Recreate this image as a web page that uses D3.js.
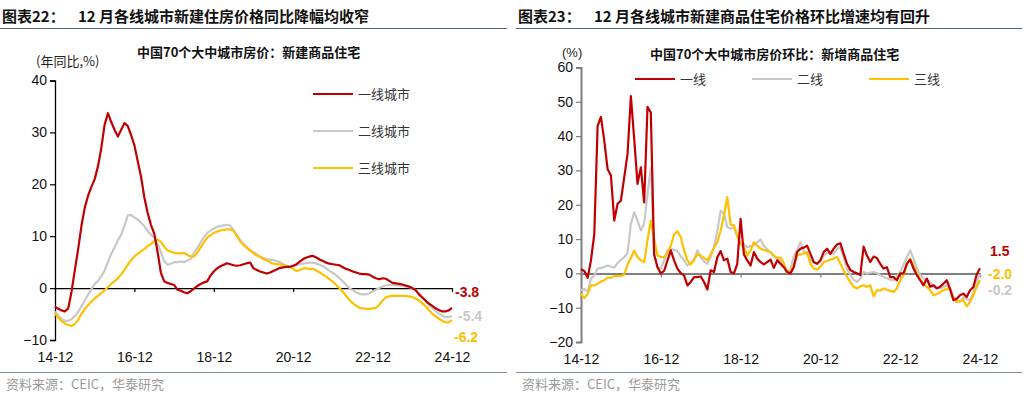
<!DOCTYPE html>
<html><head><meta charset="utf-8">
<script src="https://cdn.jsdelivr.net/npm/d3@7"></script>
<style>body{margin:0;background:#fff}svg{display:block}</style>
</head><body><svg id="c" width="1027" height="393"></svg>
<script>
// ---------- data ----------
const xTickIdx = [0, 24, 48, 72, 96, 120];
const xTickLabels = ["14-12", "16-12", "18-12", "20-12", "22-12", "24-12"];
const leftYTicks = [-10, 0, 10, 20, 30, 40];
const rightYTicks = [-20, -10, 0, 10, 20, 30, 40, 50, 60];
const leftSeriesNames = ["一线城市", "二线城市", "三线城市"];
const rightSeriesNames = ["一线", "二线", "三线"];

// Chart 22: YoY (%), monthly 2014-12 .. 2024-12
const yoyTier1 = [
 -3.6,-4.0,-4.3,-4.5,-3.9,-0.7,3.5,7.5,12.0,15.5,
 17.8,19.5,21.0,23.5,27.0,31.5,33.7,32.0,30.5,29.2,
 30.5,31.8,31.2,29.5,27.5,24.5,21.5,17.5,14.5,12.2,
 10.5,7.0,3.0,1.3,1.0,0.8,0.6,-0.3,-0.5,-0.8,
 -1.0,-0.6,-0.1,0.4,0.8,1.1,1.3,2.4,3.2,3.8,
 4.2,4.5,4.8,4.6,4.4,4.3,4.4,4.6,4.8,4.9,
 3.8,3.5,3.2,3.0,2.8,3.0,3.3,3.6,3.9,4.0,
 4.1,4.1,4.3,4.6,5.1,5.6,5.9,6.1,6.2,5.9,
 5.5,5.2,4.9,4.7,4.6,4.5,4.4,4.0,3.7,3.5,
 3.2,3.0,2.8,2.7,2.7,2.6,2.2,1.9,1.7,1.9,
 1.8,1.4,1.0,0.9,0.8,0.7,0.5,0.3,0.0,-0.4,
 -1.2,-1.8,-2.4,-3.0,-3.4,-3.9,-4.2,-4.5,-4.5,-4.3,
 -3.8];
const yoyTier2 = [
 -4.5,-5.3,-6.0,-6.3,-6.3,-6.0,-5.4,-4.6,-3.5,-2.4,
 -1.3,-0.2,0.8,1.4,2.3,3.4,5.0,6.6,7.8,9.2,
 10.3,12.0,14.0,14.1,13.6,13.2,12.6,11.9,11.0,10.3,
 9.7,8.5,7.0,5.2,4.5,4.7,5.0,5.0,5.1,5.0,
 5.3,5.6,6.8,7.7,8.8,9.8,10.6,11.1,11.5,11.8,
 12.0,12.1,12.2,12.0,11.2,10.2,9.2,8.5,7.9,7.3,
 6.9,6.5,6.1,5.8,5.6,5.5,5.4,5.2,5.0,4.6,
 4.3,4.1,4.2,4.4,4.6,4.7,4.8,4.9,4.9,4.7,
 4.5,4.2,3.8,3.3,2.9,2.5,1.9,1.3,0.6,0.0,
 -0.4,-0.8,-1.1,-1.2,-1.2,-1.0,-0.7,-0.3,0.0,0.3,
 0.5,0.6,0.6,0.5,0.5,0.4,0.3,0.2,0.0,-0.4,
 -1.0,-1.7,-2.5,-3.2,-3.8,-4.4,-4.9,-5.3,-5.6,-5.6,
 -5.4];
const yoyTier3 = [
 -4.9,-5.7,-6.4,-6.8,-7.1,-7.3,-6.9,-6.1,-5.0,-4.0,
 -3.3,-2.6,-2.0,-1.5,-1.0,-0.4,0.2,0.8,1.3,1.9,
 2.6,3.5,4.5,5.4,6.1,6.6,7.1,7.5,8.1,8.5,
 9.0,9.4,8.9,8.0,7.3,7.0,6.8,6.7,6.7,6.8,
 6.4,6.1,6.1,6.8,7.8,8.8,9.7,10.2,10.6,10.9,
 11.1,11.2,11.3,11.3,11.0,10.0,9.0,8.3,7.7,7.2,
 6.7,6.3,6.0,5.6,5.3,5.0,4.7,4.6,4.6,4.4,
 4.2,4.1,3.7,3.3,3.5,3.8,3.8,3.7,3.7,3.4,
 3.0,2.6,2.2,1.7,1.2,0.6,0.0,-0.7,-1.5,-2.3,
 -2.9,-3.4,-3.8,-3.9,-4.0,-4.0,-3.9,-3.8,-3.2,-2.4,
 -1.8,-1.6,-1.5,-1.5,-1.5,-1.5,-1.5,-1.6,-1.7,-2.0,
 -2.4,-2.9,-3.5,-4.2,-4.9,-5.4,-5.9,-6.3,-6.6,-6.6,
 -6.2];
const yoyEndLabels = ["-3.8", "-5.4", "-6.2"];

// Chart 23: MoM annualised (%), monthly 2014-12 .. 2024-12
const momTier1 = [
 1.2,0.7,-1.3,3.8,11.5,43.0,45.6,38.7,30.4,28.5,
 15.4,20.3,21.2,28.0,34.8,51.7,39.2,26.1,30.9,20.7,
 48.5,46.9,5.5,1.8,0.0,0.7,3.8,6.7,3.8,1.4,
 0.1,-0.6,-3.5,-2.5,-1.1,-1.1,-0.9,-2.5,-4.7,0.9,
 0.4,4.7,6.5,3.8,4.3,0.4,0.0,2.8,15.9,5.5,
 3.8,2.3,6.2,4.3,3.3,2.6,3.3,4.0,1.6,3.8,
 2.8,1.8,0.4,0.0,1.8,6.2,7.2,7.5,8.1,5.7,
 3.3,2.8,3.8,6.2,7.2,5.7,7.2,8.4,8.8,5.7,
 2.8,1.0,0.4,0.0,-0.5,7.8,5.2,3.3,4.9,4.5,
 2.8,1.4,1.8,-1.1,-1.1,-2.0,0.0,0.0,2.8,4.0,
 1.4,-0.5,-2.0,-3.5,-1.5,-3.9,-3.5,-4.4,-3.9,-3.0,
 -2.0,-4.5,-7.8,-7.4,-6.4,-5.9,-6.9,-4.9,-4.0,-0.3,
 1.5];
const momTier2 = [
 -4.9,-4.5,-5.4,-1.5,-0.6,1.4,1.6,1.9,2.3,2.0,
 1.7,3.0,4.0,4.7,5.9,14.4,17.8,15.4,12.5,14.4,
 23.2,30.9,5.5,1.8,1.4,3.8,6.7,7.0,6.9,6.5,
 5.0,3.8,2.3,3.0,3.8,6.7,4.7,3.5,2.8,4.7,
 7.6,12.5,18.3,17.2,13.5,13.0,13.5,10.6,8.6,8.6,
 7.6,8.0,8.1,9.1,9.8,8.1,7.0,6.0,5.0,4.3,
 3.3,2.2,0.3,1.2,5.0,6.8,9.1,6.5,5.5,4.3,
 3.1,2.8,3.5,5.2,6.0,6.0,5.7,7.2,7.6,4.7,
 1.4,-0.5,-1.8,-2.5,-1.5,0.4,0.0,0.2,0.4,0.1,
 -0.5,-1.1,-1.4,-1.8,-2.0,-1.1,0.5,2.5,4.7,6.7,
 4.3,1.5,-0.5,-1.5,-2.0,-2.6,-3.5,-4.0,-4.4,-3.9,
 -3.5,-4.5,-6.9,-7.8,-8.3,-6.9,-7.5,-7.8,-5.5,-2.5,
 -0.2];
const momTier3 = [
 -5.9,-7.2,-6.0,-3.5,-3.5,-3.0,-2.4,-2.0,-1.2,-1.3,
 -0.8,-0.7,-0.8,-0.3,2.5,4.5,6.7,4.7,3.8,3.3,
 9.6,15.4,10.0,5.2,4.8,4.7,6.0,8.1,11.3,12.3,
 10.6,6.7,3.8,2.6,4.0,5.5,5.2,4.5,3.8,5.5,
 7.5,9.1,12.5,16.9,22.2,14.2,14.0,11.0,8.6,7.6,
 5.2,6.7,9.1,8.1,7.2,6.8,6.5,6.2,5.2,4.5,
 4.6,3.0,0.3,0.5,2.5,5.2,5.5,5.8,6.2,2.8,
 1.4,1.1,2.0,3.3,3.6,4.0,4.3,4.9,2.8,0.9,
 -1.0,-2.5,-3.9,-4.4,-3.8,-3.5,-3.9,-3.5,-6.7,-4.9,
 -5.0,-4.4,-4.8,-5.1,-5.4,-4.4,-2.0,-0.6,2.8,4.3,
 2.3,0.0,-1.8,-3.0,-3.9,-4.9,-6.4,-6.0,-5.5,-4.9,
 -4.6,-4.4,-7.4,-8.3,-8.0,-7.8,-9.6,-8.3,-6.4,-3.9,
 -2.0];
const momEndLabels = ["1.5", "-2.0", "-0.2"];

// ---------- drawing ----------
const RED = "#C00000", GRAY = "#C8C8C8", GOLD = "#FFC000";
const CJK = "'Noto Sans CJK SC', sans-serif";
const NUM = "'Liberation Sans', Arial, sans-serif";
const svg = d3.select("#c");

function header(x0, x1, tag, title) {
  svg.append("text").attr("x", x0 + 2).attr("y", 22).attr("font-family", CJK)
    .attr("font-weight", 700).attr("font-size", 15).attr("fill", "#111").text(tag);
  svg.append("text").attr("x", x0 + 78).attr("y", 22).attr("font-family", CJK)
    .attr("font-weight", 700).attr("font-size", 15).attr("fill", "#111").text(title);
  svg.append("line").attr("x1", x0).attr("x2", x1).attr("y1", 28.5).attr("y2", 28.5)
    .attr("stroke", "#52667d").attr("stroke-width", 1.2);
  svg.append("line").attr("x1", x0).attr("x2", x1).attr("y1", 372.5).attr("y2", 372.5)
    .attr("stroke", "#7d8fa3").attr("stroke-width", 1);
  svg.append("text").attr("x", x0 + 6).attr("y", 389).attr("font-family", CJK)
    .attr("font-size", 13).attr("fill", "#9a9a9a").text("资料来源：CEIC，华泰研究");
}

function chart(cfg) {
  const x = d3.scaleLinear().domain([0, 120]).range(cfg.xr);
  const y = d3.scaleLinear().domain(cfg.yd).range(cfg.yr);
  const g = svg.append("g");
  const ya = g.append("g").attr("transform", `translate(${cfg.xr[0]},0)`)
    .call(d3.axisLeft(y).tickValues(cfg.yTicks).tickSize(5).tickFormat(d3.format("d")));
  ya.select(".domain").attr("stroke", cfg.axisColor).attr("stroke-width", cfg.axisW);
  ya.selectAll(".tick line").attr("stroke", cfg.axisColor).attr("stroke-width", 1.2);
  ya.selectAll("text").attr("font-family", NUM).attr("font-size", 14).attr("fill", "#111").attr("x", -8);
  const y0 = y(0);
  const xa = g.append("g").attr("transform", `translate(0,${y0})`)
    .call(d3.axisBottom(x).tickValues(xTickIdx).tickSize(4).tickSizeOuter(0)
      .tickFormat((d, i) => xTickLabels[i]));
  xa.select(".domain").attr("stroke", cfg.axisColor).attr("stroke-width", cfg.zeroW);
  xa.selectAll(".tick line").attr("stroke", cfg.axisColor).attr("stroke-width", 1.2);
  xa.selectAll("text").attr("font-family", NUM).attr("font-size", 14).attr("fill", "#111")
    .attr("dy", null).attr("y", cfg.labelY - y0);
  const line = d3.line().x((d, i) => x(i)).y(d => y(d));
  cfg.series.forEach(s => {
    g.append("path").datum(s.data).attr("d", line).attr("fill", "none")
      .attr("stroke", s.color).attr("stroke-width", 2.2).attr("stroke-linejoin", "round");
  });
  cfg.ends.forEach(e => {
    g.append("text").attr("x", e.x).attr("y", e.y).attr("font-family", NUM)
      .attr("font-weight", 700).attr("font-size", 14).attr("fill", e.color).text(e.t);
  });
  return { x, y };
}

header(0, 507, "图表22：", "12 月各线城市新建住房价格同比降幅均收窄");
header(516, 1022, "图表23：", "12 月各线城市新建商品住宅价格环比增速均有回升");

// ----- left chart -----
chart({
  xr: [55, 452], yd: [-10, 40], yr: [340, 80.5], yTicks: leftYTicks,
  axisColor: "#000", axisW: 1.3, zeroW: 1.2, labelY: 362,
  series: [
    { data: yoyTier2, color: GRAY },
    { data: yoyTier3, color: GOLD },
    { data: yoyTier1, color: RED }
  ],
  ends: [
    { t: yoyEndLabels[0], x: 455, y: 297, color: RED },
    { t: yoyEndLabels[1], x: 458, y: 321, color: GRAY },
    { t: yoyEndLabels[2], x: 454, y: 342, color: GOLD }
  ]
});
svg.append("text").attr("x", 36).attr("y", 66).attr("font-family", CJK).attr("font-size", 13)
  .attr("fill", "#222").text("(年同比,%)");
svg.append("text").attr("x", 137).attr("y", 57).attr("font-family", CJK).attr("font-size", 13)
  .attr("font-weight", 700).attr("fill", "#111").text("中国70个大中城市房价：新建商品住宅");
[RED, GRAY, GOLD].forEach((c, i) => {
  const ly = 94 + i * 37;
  svg.append("line").attr("x1", 313).attr("x2", 353).attr("y1", ly).attr("y2", ly)
    .attr("stroke", c).attr("stroke-width", 2.2);
  svg.append("text").attr("x", 358).attr("y", ly + 5).attr("font-family", CJK).attr("font-size", 13)
    .attr("fill", "#333").text(leftSeriesNames[i]);
});

// ----- right chart -----
chart({
  xr: [581, 980], yd: [-20, 60], yr: [342, 67.5], yTicks: rightYTicks,
  axisColor: "#7f7f7f", axisW: 2, zeroW: 2, labelY: 364,
  series: [
    { data: momTier2, color: GRAY },
    { data: momTier3, color: GOLD },
    { data: momTier1, color: RED }
  ],
  ends: [
    { t: momEndLabels[0], x: 990, y: 256, color: RED },
    { t: momEndLabels[1], x: 988, y: 279, color: GOLD },
    { t: momEndLabels[2], x: 988, y: 295, color: GRAY }
  ]
});
svg.append("text").attr("x", 562).attr("y", 57).attr("font-family", NUM).attr("font-size", 13)
  .attr("fill", "#222").text("(%)");
svg.append("text").attr("x", 650).attr("y", 59).attr("font-family", CJK).attr("font-size", 13)
  .attr("font-weight", 700).attr("fill", "#111").text("中国70个大中城市房价环比：新增商品住宅");
const legX = [635, 752, 869];
[RED, GRAY, GOLD].forEach((c, i) => {
  svg.append("line").attr("x1", legX[i]).attr("x2", legX[i] + 40).attr("y1", 79).attr("y2", 79)
    .attr("stroke", c).attr("stroke-width", 2.2);
  svg.append("text").attr("x", legX[i] + 45).attr("y", 84).attr("font-family", CJK).attr("font-size", 13)
    .attr("fill", "#333").text(rightSeriesNames[i]);
});
</script></body></html>
